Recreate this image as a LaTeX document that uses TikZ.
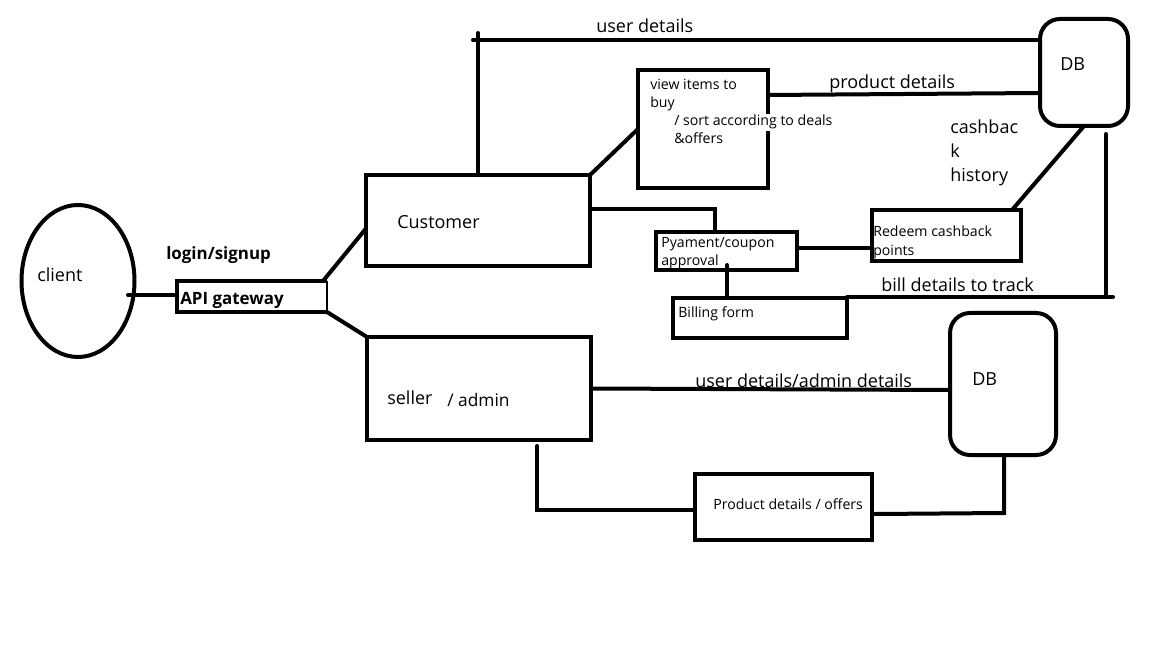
\documentclass[tikz,border=0pt]{standalone}
\usepackage{fontspec}
\setmainfont{Open Sans}
\usetikzlibrary{calc,shapes.geometric}
\begin{document}
\begin{tikzpicture}[x=0.75pt,y=-0.75pt,
  box/.style={draw,line width=3pt,inner sep=0pt,outer sep=0pt,fill=white},
  dbbox/.style={box,rounded corners=15pt},
  link/.style={line width=3pt,line cap=round},
  big/.style={anchor=base west,inner sep=0pt,font=\fontsize{13.5}{16}\selectfont},
  bigb/.style={big,font=\fontsize{12.7}{15}\selectfont\bfseries},
  small/.style={anchor=base west,inner sep=0pt,font=\fontsize{10.6}{13}\selectfont}]
\useasboundingbox (0,0) rectangle (1152,648);
\fill[white] (0,0) rectangle (1152,648);

% ---- shapes ----
\node[ellipse,box,minimum width=84.75pt,minimum height=114pt] (client) at (78,281) {};
\node[inner sep=0pt,outer sep=0pt,minimum width=112.5pt,minimum height=23.25pt] (api) at (252,296.5) {};
\node[box,minimum width=168pt,minimum height=68.25pt] (cust) at (478,220.5) {};
\node[box,minimum width=168pt,minimum height=77.25pt] (seller) at (479,388.5) {};
\node[box,minimum width=97.5pt,minimum height=88.5pt] (view) at (703,129) {};
\node[box,minimum width=105.75pt,minimum height=28.5pt] (pay) at (726.5,251) {};
\node[box,minimum width=111.75pt,minimum height=38.25pt] (redeem) at (946.5,235.5) {};
\node[box,minimum width=130.5pt,minimum height=30pt] (bill) at (760,318) {};
\node[box,minimum width=132.75pt,minimum height=49.5pt] (prod) at (783.5,507) {};
\node[dbbox,minimum width=66pt,minimum height=80.25pt] (db1) at (1084,72.5) {};
\node[dbbox,minimum width=79.5pt,minimum height=106.5pt] (db2) at (1003,384) {};

% API gateway outline: heavy on three sides, thin on the right
\draw[line width=3pt] (api.north east) -- (api.north west) -- (api.south west) -- (api.south east);
\draw[line width=1pt] (api.north east) -- (api.south east);

% ---- bend and end points ----
\coordinate (clientout) at (128,295);
\coordinate (udtop) at (478,33);
\coordinate (udleft) at (473,40);
\coordinate (paybend) at (715,209);
\coordinate (payout) at (797,248);
\coordinate (paydown) at (727,265);
\coordinate (billbend) at (1106,297);
\coordinate (sellbend) at (537,510);
\coordinate (prodbend) at (1004,513);

% ---- connectors ----
\draw[link] (clientout) -- (clientout -| api.west);
\draw[link] ($(api.north east)+(-4,0)$) -- ($(cust.west)+(0,8)$);
\draw[link] (api.south east) -- (seller.north west);
\draw[link] (cust.north) -- (udtop);
\draw[link] (udleft) -- (udleft -| db1.west);
\draw[link] (cust.north east) -- (view.west);
\draw[link] ($(view.north east)+(0,25)$) -- ($(db1.south west)+(0,-33)$);
\draw[link] (db1.south) -- ($(redeem.north east)+(-9,0)$);
\draw[link] ($(db1.south)+(22,8)$) -- (billbend) -- (billbend -| bill.north east);
\draw[link] (billbend) -- ++(7,0);
\draw[link] ($(cust.east)+(0,-11.5)$) -- (paybend) -- (paybend |- pay.north);
\draw[link] (payout) -- (payout -| redeem.west);
\draw[link] (paydown) -- (paydown |- bill.north);
\draw[link] (seller.east) -- ($(db2.west)+(0,6)$);
\draw[link] ($(seller.south)+(58,6)$) -- (sellbend) -- (sellbend -| prod.west);
\draw[link] ($(prod.east)+(3,7)$) -- (prodbend) -- (prodbend |- db2.south);

% ---- texts ----
\node[big] (tclient) at (37,282) {client};
\node[bigb] (tlogin) at (166,260) {login/signup};
\node[bigb] (tapi) at (180,305) {API gateway};
\node[big] (tcust) at (397,229) {Customer};
\node[big] (tseller) at (387,404) {seller};
\node[big,font=\fontsize{13}{15}\selectfont] (tadmin) at (447,406) {/ admin};
\node[big] (tuser) at (596,33) {user details};
\node[big] (tprod) at (829,89) {product details};
\node[big] (tdb1) at (1060,71) {DB};
\node[big] (tcb1) at (950,134) {cashbac};
\node[big] (tcb2) at (950,158) {k};
\node[big] (tcb3) at (950,182) {history};
\node[big] (tbill) at (881,292) {bill details to track};
\node[big] (tuadm) at (695,387) {user details/admin details};
\node[big] (tdb2) at (972,385) {DB};
\node[small] (tv1) at (650,90) {view items to};
\node[small] (tv2) at (650,108) {buy};
\node[small,fill=white,inner ysep=1pt] (tv3) at (674,126) {/ sort according to deals};
\node[small] (tv4) at (674,144) {\&offers};
\node[small] (tp1) at (661,248) {Pyament/coupon};
\node[small] (tp2) at (661,266) {approval};
\node[small] (tr1) at (873,237) {Redeem cashback};
\node[small] (tr2) at (873,256) {points};
\node[small] (tb) at (678,318) {Billing form};
\node[small] (tpd) at (713,509) {Product details / offers};
\end{tikzpicture}
\end{document}
